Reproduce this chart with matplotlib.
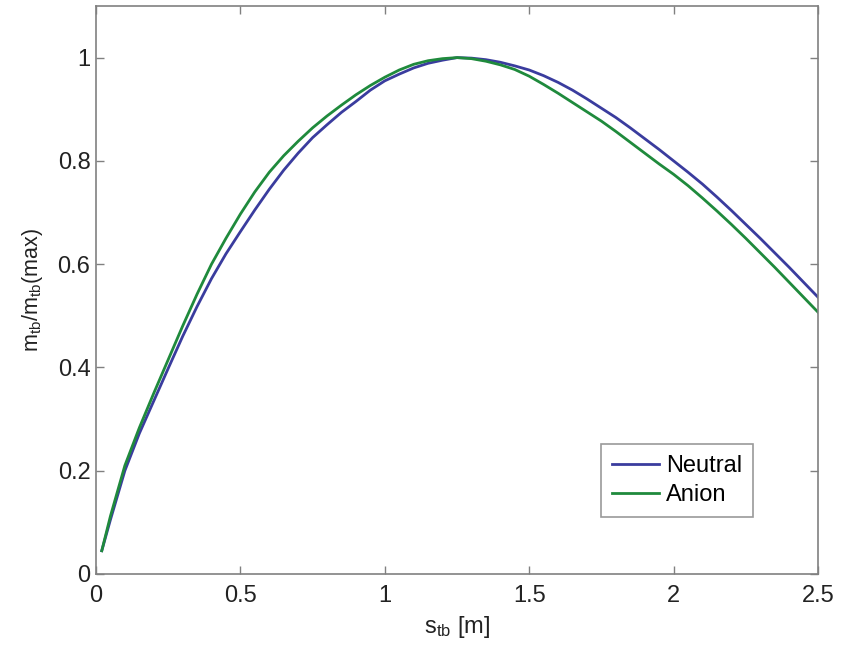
import matplotlib
matplotlib.use('Agg')
import matplotlib.pyplot as plt

# values
s_tb = [0.02, 0.05, 0.1, 0.15, 0.2, 0.25, 0.3, 0.35, 0.4, 0.45, 0.5, 0.55, 0.6,
        0.65, 0.7, 0.75, 0.8, 0.85, 0.9, 0.95, 1.0, 1.05, 1.1, 1.15, 1.2, 1.25,
        1.3, 1.35, 1.4, 1.45, 1.5, 1.55, 1.6, 1.65, 1.7, 1.75, 1.8, 1.85, 1.9,
        1.95, 2.0, 2.05, 2.1, 2.15, 2.2, 2.25, 2.3, 2.35, 2.4, 2.45, 2.5]
neutral = [0.045, 0.105, 0.200, 0.272, 0.335, 0.398, 0.460, 0.518, 0.572, 0.620,
           0.663, 0.705, 0.745, 0.782, 0.815, 0.845, 0.870, 0.894, 0.915, 0.937,
           0.955, 0.968, 0.980, 0.989, 0.995, 1.000, 0.999, 0.996, 0.991, 0.984,
           0.976, 0.965, 0.952, 0.937, 0.920, 0.902, 0.884, 0.864, 0.843, 0.822,
           0.800, 0.778, 0.755, 0.730, 0.704, 0.677, 0.650, 0.622, 0.594, 0.565,
           0.536]
anion = [0.045, 0.112, 0.210, 0.283, 0.350, 0.415, 0.480, 0.542, 0.600, 0.650,
         0.697, 0.740, 0.778, 0.810, 0.838, 0.864, 0.887, 0.908, 0.928, 0.946,
         0.962, 0.976, 0.987, 0.994, 0.998, 1.000, 0.998, 0.993, 0.986, 0.977,
         0.964, 0.948, 0.931, 0.913, 0.895, 0.877, 0.857, 0.836, 0.815, 0.794,
         0.774, 0.752, 0.728, 0.703, 0.677, 0.650, 0.622, 0.594, 0.565, 0.536,
         0.507]
x_ticks = [0, 0.5, 1, 1.5, 2, 2.5]
x_labels = ['0', '0.5', '1', '1.5', '2', '2.5']
y_ticks = [0, 0.2, 0.4, 0.6, 0.8, 1]
y_labels = ['0', '0.2', '0.4', '0.6', '0.8', '1']

plt.rcParams['font.family'] = ['Liberation Sans', 'DejaVu Sans']
plt.rcParams['mathtext.fontset'] = 'custom'
plt.rcParams['mathtext.rm'] = 'Liberation Sans'
plt.rcParams['mathtext.it'] = 'Liberation Sans'

fig = plt.figure(figsize=(8.42, 6.49), dpi=100)
ax = fig.add_axes([0.114, 0.1156, 0.8575, 0.8752])

ax.plot(s_tb, neutral, color='#3a3c9e', lw=2.0, label='Neutral')
ax.plot(s_tb, anion, color='#1f8a3c', lw=2.0, label='Anion')

ax.set_xlim(0, 2.5)
ax.set_ylim(0, 1.1)
ax.set_xticks(x_ticks)
ax.set_xticklabels(x_labels)
ax.set_yticks(y_ticks)
ax.set_yticklabels(y_labels)

for sp in ax.spines.values():
    sp.set_color('#808080')
    sp.set_linewidth(1.2)
ax.tick_params(direction='in', length=6, width=1, color='#808080',
               top=True, right=True, labelsize=17, labelcolor='#222222')
ax.tick_params(axis='x', pad=8)
ax.tick_params(axis='y', pad=4)

ax.set_xlabel(r'$\mathregular{s_{tb}}$ [m]', fontsize=17, color='#222222', labelpad=5)
ax.set_ylabel(r'$\mathregular{m_{tb}/m_{tb}}$(max)', fontsize=15.5, color='#222222', labelpad=9)

leg = ax.legend(loc='lower left', bbox_to_anchor=(0.700, 0.101), fontsize=17,
                frameon=True, fancybox=False, handlelength=2.0, handletextpad=0.3,
                borderpad=0.45, labelspacing=0.3, borderaxespad=0)
leg.get_frame().set_edgecolor('#808080')
leg.get_frame().set_linewidth(1.2)

plt.savefig('out.png', dpi=100)
plt.close()
